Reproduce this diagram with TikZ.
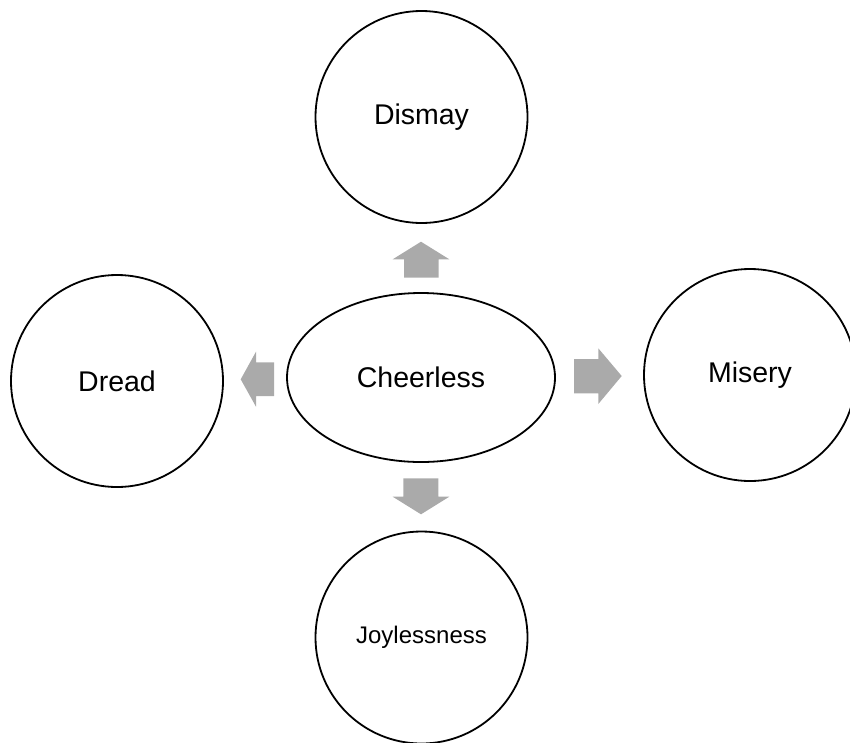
\documentclass[tikz,border=0pt]{standalone}
\usepackage{fontspec}
\setmainfont{Liberation Sans}
\usetikzlibrary{shapes.geometric}
\definecolor{arrowgray}{RGB}{170,170,170}
\tikzset{
  bubble/.style={circle, draw=black, line width=1.8pt, minimum size=212pt, inner sep=0pt,
    font=\fontsize{28.5}{34}\selectfont},
  centre/.style={ellipse, draw=black, line width=1.8pt, minimum width=268pt, minimum height=169pt, inner sep=0pt,
    font=\fontsize{28.5}{34}\selectfont},
  blockarrow/.style={fill=arrowgray, draw=none}
}
\begin{document}
\begin{tikzpicture}[x=1pt,y=-1pt]
\useasboundingbox (0,0) rectangle (850,742);
\node[centre] (cheer) at (421,377.5) {Cheerless};
\node[bubble] (dismay) at (421.5,117) {Dismay};
\node[bubble] (dread) at (117,381) {Dread};
\node[bubble] (misery) at (750,375) {Misery};
\node[bubble, font=\fontsize{24}{29}\selectfont] (joy) at (421.5,637.5) {Joylessness};
% block arrows
\fill[blockarrow] (404,277.7) -- (404,259.3) -- (392.7,259.3) -- (421,241.7) -- (449.3,259.3) -- (438.7,259.3) -- (438.7,277.7) -- cycle;
\fill[blockarrow] (274,362.3) -- (256,362.3) -- (256,351.7) -- (240.7,379.3) -- (256,406.7) -- (256,396) -- (274,396) -- cycle;
\fill[blockarrow] (574,359) -- (598.3,359) -- (598.3,348.3) -- (621.7,376) -- (598.3,404) -- (598.3,393.3) -- (574,393.3) -- cycle;
\fill[blockarrow] (403.3,478.3) -- (438.3,478.3) -- (438.3,496.7) -- (449.3,496.7) -- (421,514.3) -- (392.7,496.7) -- (403.3,496.7) -- cycle;
\end{tikzpicture}
\end{document}
